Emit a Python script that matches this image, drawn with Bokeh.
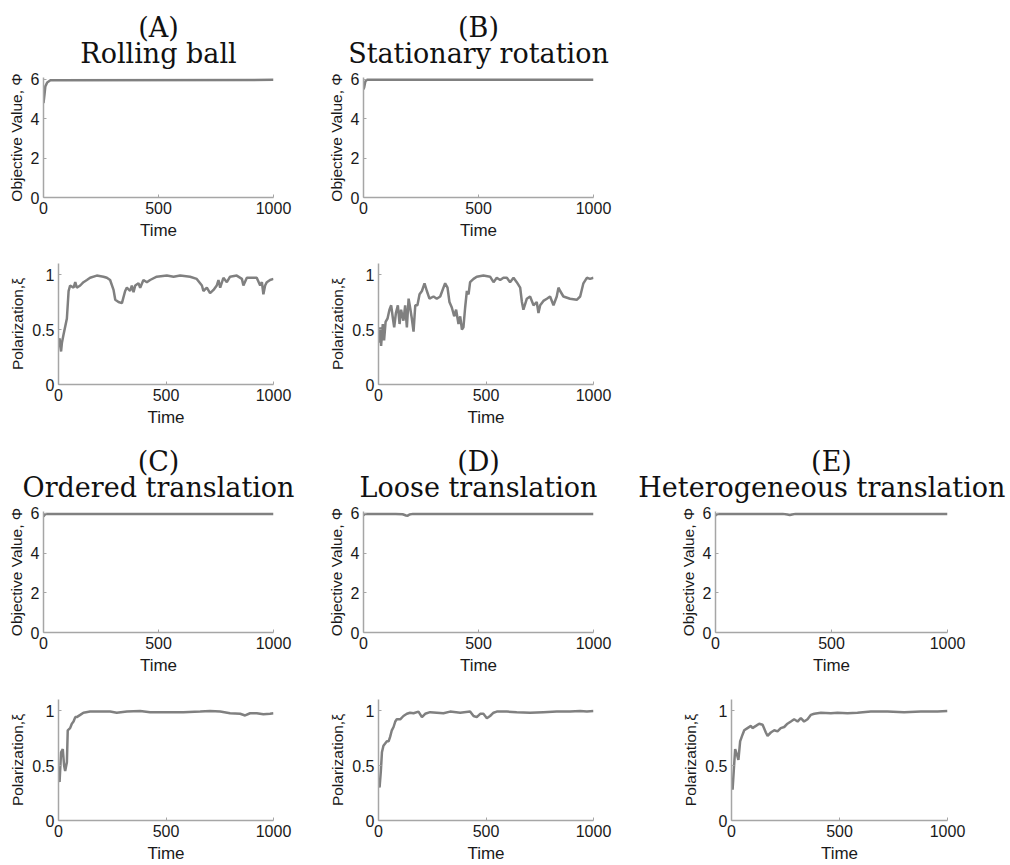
from bokeh.plotting import figure
from bokeh.layouts import column, row
from bokeh.models import Range1d, FixedTicker, Title, CustomJSTickFormatter
from bokeh.embed import file_html
from bokeh.resources import INLINE

# ---- panel titles ----
letters = ["(A)", "(B)", "(C)", "(D)", "(E)"]
names = ["Rolling ball", "Stationary rotation", "Ordered translation",
         "Loose translation", "Heterogeneous translation"]

# ---- objective value Phi over time ----
A_obj_t = [0, 4, 8, 16, 30, 1000]
A_obj_v = [4.8, 5.2, 5.65, 5.85, 5.96, 5.98]
B_obj_t = [0, 3, 8, 15, 1000]
B_obj_v = [5.5, 5.6, 5.9, 5.98, 5.98]
C_obj_t = [0, 4, 10, 1000]
C_obj_v = [5.85, 5.92, 5.98, 5.98]
D_obj_t = [0, 3, 8, 140, 170, 185, 192, 200, 215, 1000]
D_obj_v = [5.9, 5.95, 5.98, 5.98, 5.96, 5.9, 5.88, 5.95, 5.98, 5.98]
E_obj_t = [0, 5, 10, 290, 310, 320, 330, 345, 1000]
E_obj_v = [5.9, 5.95, 5.98, 5.98, 5.95, 5.92, 5.95, 5.98, 5.98]

# ---- polarization xi over time ----
A_pol_t = [0, 5, 8, 12, 16, 23, 39, 47, 54, 70, 78, 85, 101, 116, 132, 147, 178, 209, 225, 240,
           256, 264, 279, 295, 310, 318, 333, 341, 349, 357, 372, 380, 395, 411, 426, 457, 504,
           535, 566, 612, 643, 667, 674, 690, 705, 721, 736, 744, 752, 767, 783, 798, 829, 853,
           860, 876, 922, 938, 946, 953, 961, 969, 984, 1000]
A_pol_v = [0.38, 0.42, 0.35, 0.30, 0.38, 0.45, 0.60, 0.85, 0.90, 0.88, 0.93, 0.88, 0.90, 0.93,
           0.95, 0.97, 0.99, 0.98, 0.97, 0.95, 0.86, 0.77, 0.75, 0.74, 0.85, 0.88, 0.85, 0.90,
           0.84, 0.90, 0.92, 0.88, 0.95, 0.93, 0.95, 0.98, 0.99, 0.98, 0.99, 0.98, 0.96, 0.90,
           0.85, 0.88, 0.83, 0.86, 0.90, 0.95, 0.88, 0.97, 0.93, 0.98, 0.99, 0.96, 0.90, 0.97,
           0.97, 0.90, 0.93, 0.82, 0.90, 0.93, 0.95, 0.96]
B_pol_t = [0, 8, 12, 20, 26, 33, 42, 51, 59, 67, 73, 81, 90, 98, 105, 116, 124, 132, 140, 147,
           155, 163, 171, 181, 191, 202, 214, 225, 237, 256, 271, 287, 302, 310, 321, 330, 341,
           352, 361, 372, 380, 388, 395, 403, 411, 419, 426, 442, 457, 488, 519, 535, 550, 566,
           581, 597, 612, 628, 643, 659, 667, 674, 690, 705, 721, 736, 744, 752, 767, 783, 798,
           814, 829, 837, 845, 860, 891, 922, 938, 953, 969, 984, 1000]
B_pol_v = [0.38, 0.52, 0.35, 0.55, 0.40, 0.57, 0.60, 0.68, 0.72, 0.60, 0.52, 0.65, 0.72, 0.55,
           0.68, 0.58, 0.72, 0.52, 0.78, 0.70, 0.60, 0.48, 0.72, 0.72, 0.82, 0.85, 0.92, 0.85,
           0.78, 0.80, 0.78, 0.80, 0.88, 0.92, 0.88, 0.75, 0.70, 0.62, 0.68, 0.55, 0.62, 0.50,
           0.52, 0.70, 0.85, 0.82, 0.93, 0.96, 0.98, 0.99, 0.98, 0.93, 0.97, 0.95, 0.97, 0.97,
           0.93, 0.97, 0.93, 0.88, 0.75, 0.68, 0.78, 0.80, 0.72, 0.75, 0.65, 0.72, 0.76, 0.78,
           0.80, 0.72, 0.80, 0.88, 0.85, 0.80, 0.78, 0.77, 0.80, 0.92, 0.97, 0.96, 0.97]
C_pol_t = [0, 5, 12, 20, 26, 31, 39, 43, 54, 62, 70, 78, 85, 101, 116, 147, 194, 240, 271, 318,
           380, 426, 504, 581, 659, 705, 752, 798, 845, 868, 891, 922, 953, 984, 1000]
C_pol_v = [0.40, 0.35, 0.62, 0.65, 0.50, 0.45, 0.53, 0.82, 0.84, 0.88, 0.90, 0.94, 0.94, 0.96,
           0.98, 0.99, 0.99, 0.99, 0.98, 0.99, 0.995, 0.985, 0.985, 0.985, 0.99, 0.995, 0.99,
           0.975, 0.97, 0.955, 0.975, 0.975, 0.965, 0.97, 0.975]
D_pol_t = [0, 5, 11, 16, 23, 31, 39, 47, 54, 62, 70, 78, 85, 101, 116, 132, 147, 163, 186, 202,
           217, 240, 271, 302, 333, 380, 426, 442, 457, 473, 488, 504, 519, 535, 550, 597, 643,
           705, 767, 829, 891, 938, 969, 1000]
D_pol_v = [0.35, 0.30, 0.45, 0.62, 0.68, 0.70, 0.72, 0.72, 0.76, 0.82, 0.85, 0.90, 0.92, 0.92,
           0.95, 0.97, 0.98, 0.975, 0.99, 0.94, 0.97, 0.985, 0.98, 0.975, 0.99, 0.98, 0.99, 0.95,
           0.94, 0.97, 0.97, 0.93, 0.95, 0.98, 0.99, 0.99, 0.985, 0.98, 0.985, 0.99, 0.99, 0.995,
           0.99, 0.995]
E_pol_t = [0, 5, 12, 17, 25, 32, 40, 51, 59, 74, 90, 97, 113, 128, 144, 159, 167, 182, 198, 213,
           228, 244, 259, 275, 290, 306, 321, 336, 352, 367, 383, 414, 460, 491, 537, 583, 645,
           722, 799, 877, 954, 1000]
E_pol_v = [0.35, 0.28, 0.50, 0.65, 0.60, 0.55, 0.72, 0.78, 0.82, 0.84, 0.86, 0.84, 0.86, 0.88,
           0.87, 0.80, 0.77, 0.80, 0.82, 0.81, 0.84, 0.85, 0.88, 0.90, 0.92, 0.90, 0.93, 0.90,
           0.92, 0.96, 0.97, 0.98, 0.975, 0.98, 0.975, 0.98, 0.99, 0.99, 0.985, 0.99, 0.99, 0.995]

time_ticks = [0, 500, 1000]
obj_ticks = [0, 2, 4, 6]
pol_ticks = [0, 0.5, 1]

LINE = "#808080"
AXIS = "#a6a6a6"
SANS = "Liberation Sans"
SERIF = "DejaVu Serif"


def style_axes(p, yticks, ylabel):
    p.xaxis.ticker = FixedTicker(ticks=time_ticks)
    p.yaxis.ticker = FixedTicker(ticks=yticks)
    p.yaxis.formatter = CustomJSTickFormatter(code="return String(tick)")
    p.xaxis.axis_label = "Time"
    p.yaxis.axis_label = ylabel
    for ax in (p.xaxis, p.yaxis):
        ax.axis_line_color = AXIS
        ax.axis_line_width = 1.5
        ax.major_tick_line_color = AXIS
        ax.major_tick_in = 3
        ax.major_tick_out = 0
        ax.minor_tick_line_color = None
        ax.major_label_text_font = SANS
        ax.major_label_text_font_size = "16px"
        ax.major_label_text_color = "#1a1a1a"
        ax.axis_label_text_font = SANS
        ax.axis_label_text_font_style = "normal"
        ax.axis_label_text_color = "#1a1a1a"
        ax.major_label_standoff = 4
    p.xaxis.axis_label_text_font_size = "17px"
    p.xaxis.axis_label_standoff = 4
    p.yaxis.axis_label_text_font_size = "15.5px"
    p.yaxis.axis_label_standoff = 3
    p.xgrid.visible = False
    p.ygrid.visible = False
    p.outline_line_color = None


def base(width, height, left, right, top, bottom, ymax):
    p = figure(width=width, height=height, output_backend="svg", toolbar_location=None,
               x_range=Range1d(0, 1000), y_range=Range1d(0, ymax),
               min_border_left=left, min_border_right=right,
               min_border_top=top, min_border_bottom=bottom)
    p.background_fill_color = "white"
    p.border_fill_color = "white"
    return p


def obj_panel(i, t, v, width, left, right, top, height, bottom, align="center", shift=0):
    p = base(width, height, left, right, top, bottom, 6.1)
    p.line(t, v, line_color=LINE, line_width=2.5)
    style_axes(p, obj_ticks, "Objective Value, \u03a6")
    # name line sits next to the frame, the panel letter tucked in just above it
    p.add_layout(Title(text=names[i], align=align, offset=shift, text_font=SERIF,
                       text_font_size="27px", text_font_style="normal",
                       text_color="#111111", standoff=17), "above")
    p.add_layout(Title(text=letters[i], align="center", text_font=SERIF,
                       text_font_size="27px", text_font_style="normal",
                       text_color="#111111", standoff=-30), "above")
    return p


def pol_panel(t, v, width, left, right, top, height, bottom):
    p = base(width, height, left, right, top, bottom, 1.1)
    p.line(t, v, line_color=LINE, line_width=2.5)
    style_axes(p, pol_ticks, "Polarization,\u03be")
    return p


# row 1: panels A and B
a_obj = obj_panel(0, A_obj_t, A_obj_v, 320, 43, 47, 77, 245, 48)
b_obj = obj_panel(1, B_obj_t, B_obj_v, 310, 43, 37, 77, 245, 48)
a_pol = pol_panel(A_pol_t, A_pol_v, 320, 58, 47, 18, 190, 51)
b_pol = pol_panel(B_pol_t, B_pol_v, 310, 58, 37, 18, 190, 51)

# row 2: panels C, D and E
c_obj = obj_panel(2, C_obj_t, C_obj_v, 320, 43, 47, 76, 245, 48)
d_obj = obj_panel(3, D_obj_t, D_obj_v, 310, 43, 37, 76, 245, 48)
e_obj = obj_panel(4, E_obj_t, E_obj_v, 380, 85, 63, 76, 245, 48, align="right", shift=-58)
c_pol = pol_panel(C_pol_t, C_pol_v, 320, 58, 47, 19, 185, 45)
d_pol = pol_panel(D_pol_t, D_pol_v, 310, 58, 37, 19, 185, 45)
e_pol = pol_panel(E_pol_t, E_pol_v, 380, 101, 63, 19, 185, 45)

layout = column(
    row(a_obj, b_obj, spacing=0),
    row(a_pol, b_pol, spacing=0),
    row(c_obj, d_obj, e_obj, spacing=0),
    row(c_pol, d_pol, e_pol, spacing=0),
    spacing=0,
)

open("out.html", "w").write(file_html(layout, INLINE, title="Swarm behaviours"))
